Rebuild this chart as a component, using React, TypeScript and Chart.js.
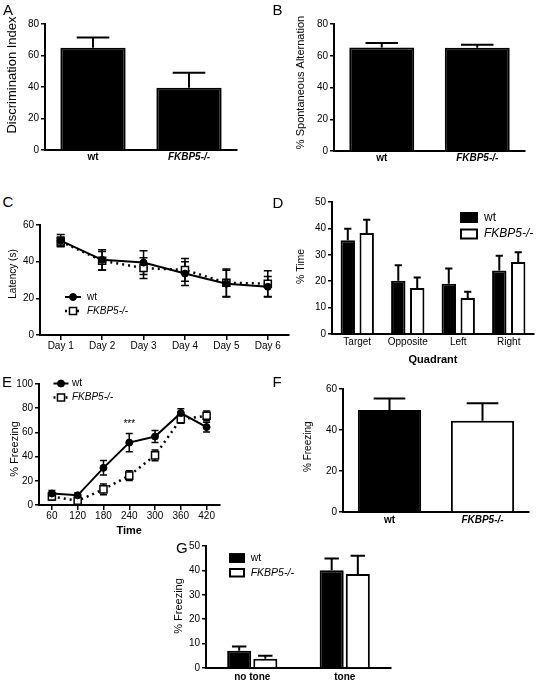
import React, { useEffect, useRef } from 'react';
import { Chart, registerables } from 'chart.js';

Chart.register(...registerables);

const FONT = '"Liberation Sans", Arial, Helvetica, sans-serif';
Chart.defaults.font.family = FONT;
Chart.defaults.color = '#000';

// ---------------- Data ----------------
const GROUPS = ['wt', 'FKBP5-/-'];

const A_MEANS = [65, 39.5];
const A_SEM = [6.5, 9.5];

const B_MEANS = [65.2, 65];
const B_SEM = [2.8, 2];

const C_DAYS = ['Day 1', 'Day 2', 'Day 3', 'Day 4', 'Day 5', 'Day 6'];
const C_WT = [51.5, 41, 39.5, 33.5, 28, 26.3];
const C_WT_SEM = [3.3, 5.5, 6.5, 6.5, 7.3, 5.6];
const C_KO = [51, 40.5, 36.5, 35.5, 28.5, 28];
const C_KO_SEM = [2.5, 5, 5.7, 6.2, 7.5, 7];

const D_QUADRANTS = ['Target', 'Opposite', 'Left', 'Right'];
const D_WT = [35.5, 20.2, 19, 24.1];
const D_WT_SEM = [4.4, 5.8, 5.8, 5.5];
const D_KO = [38.3, 17.4, 13.6, 27.3];
const D_KO_SEM = [5, 4, 2.4, 3.7];

const E_TIMES = ['60', '120', '180', '240', '300', '360', '420'];
const E_WT = [9.5, 8, 30.7, 51.6, 56.6, 76, 64.4];
const E_WT_SEM = [2.5, 2, 6, 7.5, 5, 3.5, 4];
const E_KO = [7, 3.5, 12.9, 24.3, 41, 71, 73.7];
const E_KO_SEM = [3, 2.5, 4.5, 4, 4.5, 3.5, 4];
const E_SIG_TEXT = '***';
const E_SIG_INDEX = 3;
const E_SIG_VALUE = 66.5;

const F_MEANS = [49.8, 44.5];
const F_SEM = [5.6, 8.6];

const G_CONDITIONS = ['no tone', 'tone'];
const G_WT = [7.1, 40.1];
const G_WT_SEM = [1.7, 4.8];
const G_KO = [3.8, 38.5];
const G_KO_SEM = [1.2, 7.5];

// ---------------- Plugins ----------------
type ErrSet = { ds: number; sem: number[]; both: boolean; lw: number; capFrac?: number; capPx?: number; before?: boolean };

function errorBars(sets: ErrSet[]) {
  const draw = (chart: any, before: boolean) => {
    const ctx = chart.ctx;
    const y = chart.scales.y;
    sets.forEach((s) => {
      if (!!s.before !== before) return;
      const meta = chart.getDatasetMeta(s.ds);
      const vals = chart.data.datasets[s.ds].data as number[];
      meta.data.forEach((el: any, i: number) => {
        const v = vals[i];
        const e = s.sem[i];
        const x = el.x;
        const yt = y.getPixelForValue(v + e);
        const yb = y.getPixelForValue(s.both ? v - e : v);
        const half = s.capPx != null ? s.capPx / 2 : (el.width * (s.capFrac ?? 0.5)) / 2;
        ctx.save();
        ctx.strokeStyle = '#000';
        ctx.lineWidth = s.lw;
        ctx.setLineDash([]);
        ctx.beginPath();
        ctx.moveTo(x, yt);
        ctx.lineTo(x, yb);
        ctx.moveTo(x - half, yt);
        ctx.lineTo(x + half, yt);
        if (s.both) {
          ctx.moveTo(x - half, yb);
          ctx.lineTo(x + half, yb);
        }
        ctx.stroke();
        ctx.restore();
      });
    });
  };
  return {
    id: 'errorBars',
    beforeDatasetsDraw: (c: any) => draw(c, true),
    afterDatasetsDraw: (c: any) => draw(c, false),
  };
}

type LegItem = { text: string; italic?: boolean };

function lineLegend(origin: [number, number], cfg: { x0: number; x1: number; textX: number; ys: number[]; size: number; items: LegItem[] }) {
  return {
    id: 'lineLegend',
    afterDraw(chart: any) {
      const ctx = chart.ctx;
      const [ox, oy] = origin;
      cfg.items.forEach((it, i) => {
        const ds = chart.data.datasets[i];
        const y = cfg.ys[i] - oy;
        const x0 = cfg.x0 - ox;
        const x1 = cfg.x1 - ox;
        const xm = (x0 + x1) / 2;
        ctx.save();
        ctx.strokeStyle = ds.borderColor;
        ctx.lineWidth = ds.borderWidth;
        ctx.setLineDash(ds.borderDash || []);
        ctx.beginPath();
        ctx.moveTo(x0, y);
        ctx.lineTo(x1, y);
        ctx.stroke();
        ctx.setLineDash([]);
        const r = ds.pointRadius;
        ctx.fillStyle = ds.pointBackgroundColor;
        ctx.strokeStyle = ds.pointBorderColor;
        ctx.lineWidth = ds.pointBorderWidth;
        ctx.beginPath();
        if (ds.pointStyle === 'rect') {
          const s = r * Math.SQRT1_2;
          ctx.rect(xm - s, y - s, 2 * s, 2 * s);
        } else {
          ctx.arc(xm, y, r, 0, Math.PI * 2);
        }
        ctx.fill();
        ctx.stroke();
        ctx.fillStyle = '#000';
        ctx.font = `${it.italic ? 'italic ' : ''}${cfg.size}px ${FONT}`;
        ctx.textBaseline = 'middle';
        ctx.textAlign = 'left';
        ctx.fillText(it.text, cfg.textX - ox, y);
        ctx.restore();
      });
    },
  };
}

function boxLegend(origin: [number, number], cfg: { x: number; w: number; h: number; tops: number[]; textX: number; size: number; items: LegItem[] }) {
  return {
    id: 'boxLegend',
    afterDraw(chart: any) {
      const ctx = chart.ctx;
      const [ox, oy] = origin;
      cfg.items.forEach((it, i) => {
        const ds = chart.data.datasets[i];
        const x = cfg.x - ox;
        const t = cfg.tops[i] - oy;
        ctx.save();
        ctx.fillStyle = ds.backgroundColor;
        ctx.fillRect(x, t, cfg.w, cfg.h);
        ctx.strokeStyle = '#000';
        ctx.lineWidth = 2;
        ctx.strokeRect(x + 1, t + 1, cfg.w - 2, cfg.h - 2);
        ctx.fillStyle = '#000';
        ctx.font = `${it.italic ? 'italic ' : ''}${cfg.size}px ${FONT}`;
        ctx.textBaseline = 'middle';
        ctx.textAlign = 'left';
        ctx.fillText(it.text, cfg.textX - ox, t + cfg.h / 2);
        ctx.restore();
      });
    },
  };
}

function sigText(text: string, ds: number, index: number, value: number, size: number) {
  return {
    id: 'sigText',
    afterDraw(chart: any) {
      const ctx = chart.ctx;
      const el = chart.getDatasetMeta(ds).data[index];
      const y = chart.scales.y.getPixelForValue(value);
      ctx.save();
      ctx.fillStyle = '#000';
      ctx.font = `${size}px ${FONT}`;
      ctx.textAlign = 'center';
      ctx.textBaseline = 'middle';
      ctx.fillText(text, el.x, y);
      ctx.restore();
    },
  };
}

// Rotated y-axis title placed at a given centre (page coordinates)
function yTitle(origin: [number, number], cfg: { text: string; x: number; y: number; size: number }) {
  return {
    id: 'yTitle',
    afterDraw(chart: any) {
      const ctx = chart.ctx;
      ctx.save();
      ctx.translate(cfg.x - origin[0], cfg.y - origin[1]);
      ctx.rotate(-Math.PI / 2);
      ctx.fillStyle = '#000';
      ctx.font = `${cfg.size}px ${FONT}`;
      ctx.textAlign = 'center';
      ctx.textBaseline = 'middle';
      ctx.fillText(cfg.text, 0, 0);
      ctx.restore();
    },
  };
}

// ---------------- Axis helpers ----------------
function yAxis(o: { max: number; step: number; width: number }) {
  return {
    min: 0,
    max: o.max,
    ticks: { stepSize: o.step, color: '#000', font: { size: 10 }, padding: 2 },
    grid: { display: true, drawOnChartArea: false, drawTicks: true, tickLength: 4, color: '#000', lineWidth: 1.5 },
    border: { display: true, color: '#000', width: 2 },
    title: { display: false },
    afterFit: (s: any) => {
      s.width = o.width;
    },
  };
}

function xAxis(o: { height: number; size: number; padding: number; bold?: boolean; italicIdx?: number; ticks?: boolean; title?: string; titleSize?: number }) {
  return {
    type: 'category',
    offset: true,
    grid: { display: !!o.ticks, drawOnChartArea: false, drawTicks: !!o.ticks, tickLength: 5, color: '#000', lineWidth: 1.5, offset: false },
    border: { display: true, color: '#000', width: 2 },
    ticks: {
      color: '#000',
      autoSkip: false,
      maxRotation: 0,
      minRotation: 0,
      padding: o.padding,
      font: (ctx: any) => ({
        size: o.size,
        weight: o.bold ? 'bold' : 'normal',
        style: o.italicIdx === ctx.index ? 'italic' : 'normal',
      }),
    },
    title: o.title
      ? { display: true, text: o.title, color: '#000', font: { size: o.titleSize || 11, weight: 'bold' }, padding: 0 }
      : { display: false },
    afterFit: (s: any) => {
      s.height = o.height;
    },
  };
}

const baseOptions = (padTop: number, padRight: number) => ({
  responsive: false,
  animation: false,
  devicePixelRatio: 1,
  layout: { padding: { top: padTop, right: padRight, left: 0, bottom: 0 } },
  plugins: { legend: { display: false }, tooltip: { enabled: false } },
});

// ---------------- Panel component ----------------
type Box = { left: number; top: number; width: number; height: number };

function ChartPanel({ box, make }: { box: Box; make: (origin: [number, number]) => any }) {
  const ref = useRef<HTMLCanvasElement>(null);
  useEffect(() => {
    const chart = new Chart(ref.current as HTMLCanvasElement, make([box.left, box.top]));
    return () => chart.destroy();
  }, []);
  return (
    <canvas
      ref={ref}
      width={box.width}
      height={box.height}
      style={{ position: 'absolute', left: box.left, top: box.top, width: box.width, height: box.height }}
    />
  );
}

// ---------------- Panel configs ----------------
const boxA: Box = { left: 4, top: 4, width: 238, height: 166 };
const makeA = (origin: [number, number]) => ({
  type: 'bar',
  data: {
    labels: GROUPS,
    datasets: [{ data: A_MEANS, backgroundColor: ['#000', '#000'], borderColor: '#000', borderWidth: 2, categoryPercentage: 0.68, barPercentage: 1 }],
  },
  options: {
    ...baseOptions(20, 5),
    scales: {
      x: xAxis({ height: 20, size: 10, padding: 1, bold: true, italicIdx: 1 }),
      y: yAxis({ max: 80, step: 20, width: 41 }),
    },
  },
  plugins: [
    errorBars([{ ds: 0, sem: A_SEM, both: false, lw: 2, capFrac: 0.5 }]),
    yTitle(origin, { text: 'Discrimination Index', x: 12, y: 75, size: 13 }),
  ],
});

const boxB: Box = { left: 294, top: 4, width: 236, height: 167 };
const makeB = (origin: [number, number]) => ({
  type: 'bar',
  data: {
    labels: GROUPS,
    datasets: [{ data: B_MEANS, backgroundColor: ['#000', '#000'], borderColor: '#000', borderWidth: 2, categoryPercentage: 0.68, barPercentage: 1 }],
  },
  options: {
    ...baseOptions(20, 5),
    scales: {
      x: xAxis({ height: 20, size: 10, padding: 1, bold: true, italicIdx: 1 }),
      y: yAxis({ max: 80, step: 20, width: 40 }),
    },
  },
  plugins: [
    errorBars([{ ds: 0, sem: B_SEM, both: false, lw: 2, capFrac: 0.5 }]),
    yTitle(origin, { text: '% Spontaneous Alternation', x: 300.5, y: 82.5, size: 11 }),
  ],
});

const boxC: Box = { left: 7, top: 215, width: 288, height: 140 };
const makeC = (origin: [number, number]) => ({
  type: 'line',
  data: {
    labels: C_DAYS,
    datasets: [
      { data: C_WT, borderColor: '#000', borderWidth: 2, tension: 0, pointStyle: 'circle', pointRadius: 3.5, pointBackgroundColor: '#000', pointBorderColor: '#000', pointBorderWidth: 1 },
      { data: C_KO, borderColor: '#000', borderWidth: 2.5, borderDash: [2, 4], tension: 0, pointStyle: 'rect', pointRadius: 5, pointBackgroundColor: '#fff', pointBorderColor: '#000', pointBorderWidth: 1.5 },
    ],
  },
  options: {
    ...baseOptions(10, 5),
    scales: {
      x: xAxis({ height: 20, size: 10, padding: 0, ticks: true }),
      y: yAxis({ max: 60, step: 20, width: 33 }),
    },
  },
  plugins: [
    errorBars([
      { ds: 1, sem: C_KO_SEM, both: true, lw: 1.5, capPx: 8, before: true },
      { ds: 0, sem: C_WT_SEM, both: true, lw: 1.5, capPx: 8, before: true },
    ]),
    lineLegend(origin, { x0: 65, x1: 81, textX: 87, ys: [297, 311], size: 10, items: [{ text: 'wt' }, { text: 'FKBP5-/-', italic: true }] }),
    yTitle(origin, { text: 'Latency (s)', x: 13.5, y: 274, size: 10 }),
  ],
});

const boxD: Box = { left: 294, top: 192, width: 243, height: 175 };
const makeD = (origin: [number, number]) => ({
  type: 'bar',
  data: {
    labels: D_QUADRANTS,
    datasets: [
      { data: D_WT, backgroundColor: '#000', borderColor: '#000', borderWidth: 2, categoryPercentage: 0.75, barPercentage: 0.76 },
      { data: D_KO, backgroundColor: '#fff', borderColor: '#000', borderWidth: 2, categoryPercentage: 0.75, barPercentage: 0.76 },
    ],
  },
  options: {
    ...baseOptions(10, 3),
    scales: {
      x: xAxis({ height: 33, size: 10, padding: 2, title: 'Quadrant', titleSize: 11 }),
      y: yAxis({ max: 50, step: 10, width: 38 }),
    },
  },
  plugins: [
    errorBars([
      { ds: 0, sem: D_WT_SEM, both: false, lw: 2, capFrac: 0.5 },
      { ds: 1, sem: D_KO_SEM, both: false, lw: 2, capFrac: 0.5 },
    ]),
    boxLegend(origin, { x: 460, w: 18, h: 11, tops: [212, 228.5], textX: 484, size: 12, items: [{ text: 'wt' }, { text: 'FKBP5-/-', italic: true }] }),
    yTitle(origin, { text: '% Time', x: 301.5, y: 266.5, size: 10.5 }),
  ],
});

const boxE: Box = { left: 8, top: 374, width: 218, height: 164 };
const makeE = (origin: [number, number]) => ({
  type: 'line',
  data: {
    labels: E_TIMES,
    datasets: [
      { data: E_WT, borderColor: '#000', borderWidth: 2, tension: 0, pointStyle: 'circle', pointRadius: 3.5, pointBackgroundColor: '#000', pointBorderColor: '#000', pointBorderWidth: 1 },
      { data: E_KO, borderColor: '#000', borderWidth: 2.5, borderDash: [2, 4], tension: 0, pointStyle: 'rect', pointRadius: 5, pointBackgroundColor: '#fff', pointBorderColor: '#000', pointBorderWidth: 1.5 },
    ],
  },
  options: {
    ...baseOptions(10, 5),
    scales: {
      x: xAxis({ height: 33, size: 10, padding: 0, ticks: true, title: 'Time', titleSize: 11 }),
      y: yAxis({ max: 100, step: 20, width: 31 }),
    },
  },
  plugins: [
    errorBars([
      { ds: 1, sem: E_KO_SEM, both: true, lw: 1.5, capPx: 7, before: true },
      { ds: 0, sem: E_WT_SEM, both: true, lw: 1.5, capPx: 7, before: true },
    ]),
    lineLegend(origin, { x0: 53.5, x1: 68.5, textX: 72, ys: [383.5, 397.5], size: 10, items: [{ text: 'wt' }, { text: 'FKBP5-/-', italic: true }] }),
    sigText(E_SIG_TEXT, 0, E_SIG_INDEX, E_SIG_VALUE, 10),
    yTitle(origin, { text: '% Freezing', x: 15, y: 449, size: 11 }),
  ],
});

const boxF: Box = { left: 303, top: 379, width: 230, height: 153 };
const makeF = (origin: [number, number]) => ({
  type: 'bar',
  data: {
    labels: GROUPS,
    datasets: [{ data: F_MEANS, backgroundColor: ['#000', '#fff'], borderColor: '#000', borderWidth: 2, categoryPercentage: 0.68, barPercentage: 1 }],
  },
  options: {
    ...baseOptions(10, 4),
    scales: {
      x: xAxis({ height: 20, size: 10, padding: 2, bold: true, italicIdx: 1 }),
      y: yAxis({ max: 60, step: 20, width: 40 }),
    },
  },
  plugins: [
    errorBars([{ ds: 0, sem: F_SEM, both: false, lw: 2, capFrac: 0.5 }]),
    yTitle(origin, { text: '% Freezing', x: 308.7, y: 446.7, size: 10 }),
  ],
});

const boxG: Box = { left: 172, top: 536, width: 224, height: 147 };
const makeG = (origin: [number, number]) => ({
  type: 'bar',
  data: {
    labels: G_CONDITIONS,
    datasets: [
      { data: G_WT, backgroundColor: '#000', borderColor: '#000', borderWidth: 2, categoryPercentage: 0.565, barPercentage: 0.92 },
      { data: G_KO, backgroundColor: '#fff', borderColor: '#000', borderWidth: 2, categoryPercentage: 0.565, barPercentage: 0.92 },
    ],
  },
  options: {
    ...baseOptions(10, 5),
    scales: {
      x: xAxis({ height: 15, size: 10, padding: 3, bold: true }),
      y: yAxis({ max: 50, step: 10, width: 34 }),
    },
  },
  plugins: [
    errorBars([
      { ds: 0, sem: G_WT_SEM, both: false, lw: 2, capFrac: 0.6 },
      { ds: 1, sem: G_KO_SEM, both: false, lw: 2, capFrac: 0.6 },
    ]),
    boxLegend(origin, { x: 229, w: 16, h: 9.5, tops: [553.3, 568], textX: 250.7, size: 10.5, items: [{ text: 'wt' }, { text: 'FKBP5-/-', italic: true }] }),
    yTitle(origin, { text: '% Freezing', x: 179, y: 606, size: 11 }),
  ],
});

const PANEL_LETTERS = ['A', 'B', 'C', 'D', 'E', 'F', 'G'];
const LETTER_POS: [number, number][] = [
  [3, 2],
  [272.5, 2],
  [2.5, 194],
  [272.5, 194.7],
  [2, 374],
  [272.5, 373.5],
  [176, 540.3],
];

export default function App() {
  return (
    <div style={{ position: 'absolute', left: 0, top: 0, width: 537, height: 683, background: '#fff', overflow: 'hidden', fontFamily: FONT }}>
      <ChartPanel box={boxA} make={makeA} />
      <ChartPanel box={boxB} make={makeB} />
      <ChartPanel box={boxC} make={makeC} />
      <ChartPanel box={boxD} make={makeD} />
      <ChartPanel box={boxE} make={makeE} />
      <ChartPanel box={boxF} make={makeF} />
      <ChartPanel box={boxG} make={makeG} />
      {PANEL_LETTERS.map((l, i) => (
        <span
          key={l}
          style={{ position: 'absolute', left: LETTER_POS[i][0], top: LETTER_POS[i][1], fontSize: 15, lineHeight: '15px', color: '#000', fontFamily: FONT }}
        >
          {l}
        </span>
      ))}
    </div>
  );
}
